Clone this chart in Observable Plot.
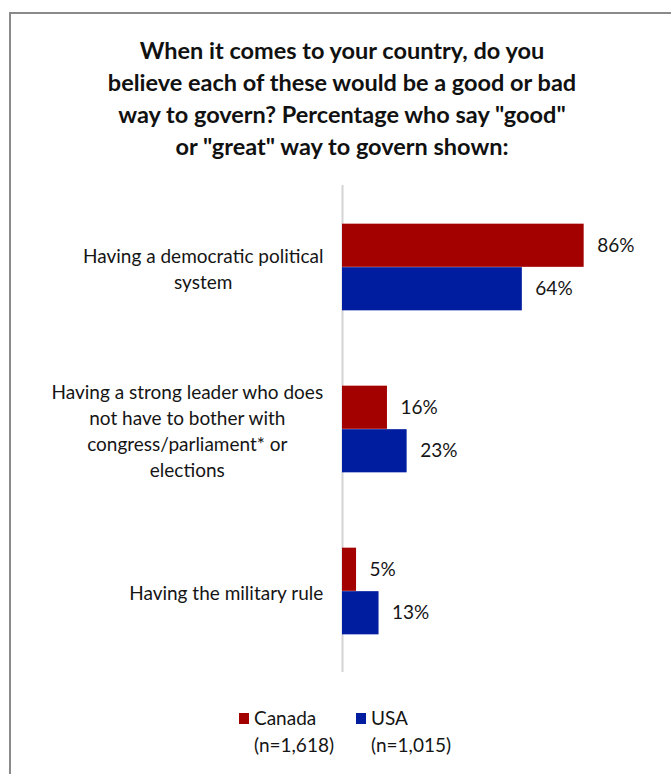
<!DOCTYPE html>
<html><head><meta charset="utf-8">
<script src="https://cdn.jsdelivr.net/npm/d3@7"></script>
<script src="https://cdn.jsdelivr.net/npm/@observablehq/plot@0.6"></script>
<style>
body{margin:0;background:#fff;}
#frame{position:relative;width:671px;height:774px;overflow:hidden;font-family:Lato,sans-serif;color:#151515;background:#fff;}
#border{position:absolute;left:9px;top:12px;right:-5px;bottom:-5px;border-top:2px solid #8a8a8a;border-left:2px solid #8a8a8a;}
#title{position:absolute;left:10px;width:664px;top:34px;text-align:center;font-weight:700;font-size:23.5px;line-height:32px;color:#111;}
#chart{position:absolute;left:0;top:170px;}
#legend{position:absolute;left:0;width:690px;top:704px;display:flex;justify-content:center;gap:22px;font-size:19px;line-height:27px;color:#151515;}
.item{display:flex;align-items:flex-start;}
.sw{width:10px;height:11px;margin-top:9px;margin-right:5px;}
</style>
</head><body>
<div id="frame">
  <div id="border"></div>
  <div id="title"></div>
  <div id="chart"></div>
  <div id="legend"></div>
</div>
<script>
const titleLines = ["When it comes to your country, do you", "believe each of these would be a good or bad", "way to govern? Percentage who say \"good\"", "or \"great\" way to govern shown:"];
const questions = ["Having a democratic political system", "Having a strong leader who does not have to bother with congress/parliament* or elections", "Having the military rule"];
const questionLabels = ["Having a democratic political\nsystem", "Having a strong leader who does\nnot have to bother with\ncongress/parliament* or\nelections", "Having the military rule"];
const countries = ["Canada", "USA"];
const canadaValues = [86, 16, 5];
const usaValues = [64, 23, 13];
const sampleSizes = ["(n=1,618)", "(n=1,015)"];
const colors = ["#a30000", "#001c9f"];

document.getElementById("title").innerHTML = titleLines.join("<br>");

const rows = questions.flatMap((q, i) => [
  {question: q, country: "Canada", value: canadaValues[i]},
  {question: q, country: "USA", value: usaValues[i]}
]);

const W = 671, H = 520, mt = 15, mb = 18;
const band = (H - mt - mb) / questions.length, half = band / 2, barH = 43.5;
const fontSize = 19;
const ctx = document.createElement("canvas").getContext("2d");
ctx.font = `${fontSize}px Lato`;
const measure = s => Math.max(...s.split("\n").map(l => ctx.measureText(l).width));

const marks = [Plot.ruleX([0], {stroke: "#d4d4d4", strokeWidth: 2})];
countries.forEach((c, k) => {
  const data = rows.filter(r => r.country === c);
  marks.push(Plot.barX(data, {
    x: "value", y: "question", fill: "country",
    insetTop: k === 0 ? half - barH : half,
    insetBottom: k === 0 ? half : half - barH
  }));
  marks.push(Plot.text(data, {
    x: "value", y: "question", text: d => d.value + "%",
    textAnchor: "start", dx: 13, dy: k === 0 ? -barH / 2 : barH / 2,
    fontSize: 19, fill: "#151515"
  }));
});
questions.forEach((q, i) => {
  const w = measure(questionLabels[i]);
  marks.push(Plot.text([q], {
    y: d => d, text: () => questionLabels[i],
    frameAnchor: "left", textAnchor: "middle", dx: -(19 + w / 2),
    lineHeight: 1.36, fontSize, fill: "#151515"
  }));
});

const chart = Plot.plot({
  width: W, height: H,
  marginLeft: 342, marginRight: 48, marginTop: mt, marginBottom: mb,
  x: {domain: [0, 100], axis: null},
  y: {domain: questions, padding: 0, axis: null},
  color: {domain: countries, range: colors},
  style: {fontFamily: "Lato, sans-serif", background: "transparent"},
  marks
});
document.getElementById("chart").appendChild(chart);

const legend = document.getElementById("legend");
countries.forEach((c, i) => {
  const item = document.createElement("div");
  item.className = "item";
  item.innerHTML = `<div class="sw" style="background:${colors[i]}"></div><div>${c}<br>${sampleSizes[i]}</div>`;
  legend.appendChild(item);
});
</script>
</body></html>
